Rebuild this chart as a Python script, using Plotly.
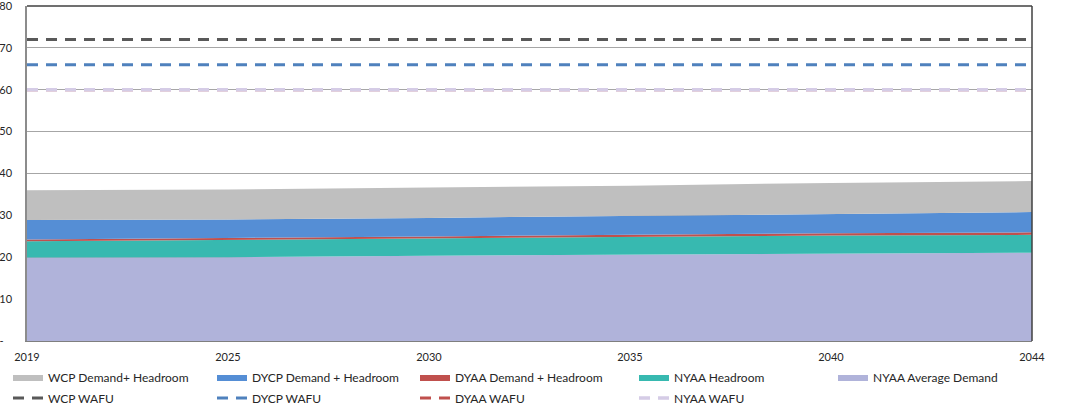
import plotly.graph_objects as go

years = ["2019", "2025", "2030", "2035", "2040", "2044"]

nyaa_avg_demand = [19.95, 20.0, 20.35, 20.65, 20.9, 21.1]
nyaa_headroom = [3.85, 4.15, 4.15, 4.15, 4.3, 4.25]
dyaa_dem_head = [0.45, 0.4, 0.45, 0.55, 0.55, 0.6]
dycp_dem_head = [4.65, 4.45, 4.45, 4.55, 4.6, 4.85]
wcp_dem_head = [7.1, 7.2, 7.25, 7.2, 7.4, 7.4]

wcp_wafu = [72.0] * 6
dycp_wafu = [66.0] * 6
dyaa_wafu = [60.0] * 6
nyaa_wafu = [60.0] * 6

y_tickvals = [0, 10, 20, 30, 40, 50, 60, 70, 80]
y_ticktext = ["-\u00a0\u00a0\u00a0", "10", "20", "30", "40", "50", "60", "70", "80"]

FONT = "Lato, 'Liberation Sans', Arial, sans-serif"

# geometry (pixels)
W, H = 1066, 408
L, R, T, B = 27, 34, 6, 67
PW, PH = W - L - R, H - T - B


def px_x(x):
    return (x - L) / PW


def px_y(y):
    return (H - B - y) / PH


fig = go.Figure()

areas = [
    ("NYAA Average Demand", nyaa_avg_demand, "#b0b3da", "legend5", 873),
    ("NYAA Headroom", nyaa_headroom, "#37b9b0", "legend4", 674),
    ("DYAA Demand + Headroom", dyaa_dem_head, "#c0504d", "legend3", 455),
    ("DYCP Demand + Headroom", dycp_dem_head, "#558ed5", "legend2", 252),
    ("WCP Demand+ Headroom", wcp_dem_head, "#bfbfbf", "legend", 48),
]
lines = [
    ("WCP WAFU", wcp_wafu, "#595959", "legend6", 48, 3),
    ("DYCP WAFU", dycp_wafu, "#4f81bd", "legend7", 252, 3),
    ("DYAA WAFU", dyaa_wafu, "#c0504d", "legend8", 455, 3),
    ("NYAA WAFU", nyaa_wafu, "#d5cce6", "legend9", 674, 3.6),
]

legend_layout = {}


def leg(text_x, row_y):
    return dict(
        x=px_x(text_x - 40), y=px_y(row_y), xanchor="left", yanchor="middle",
        orientation="v", font=dict(family=FONT, size=12, color="#262626"),
        bgcolor="rgba(0,0,0,0)", itemwidth=30,
    )


for name, vals, col, lg, tx in areas:
    fig.add_trace(go.Scatter(
        x=years, y=vals, name=name, mode="lines", stackgroup="a",
        line=dict(width=0, color=col), fillcolor=col, legend=lg,
    ))
    legend_layout[lg] = leg(tx, 377)

for name, vals, col, lg, tx, w in lines:
    fig.add_trace(go.Scatter(
        x=years, y=vals, name=name, mode="lines",
        line=dict(width=w, color=col, dash="11px,8px"), legend=lg,
    ))
    legend_layout[lg] = leg(tx, 398)

fig.update_layout(
    width=W, height=H,
    margin=dict(l=L, r=R, t=T, b=B, autoexpand=False),
    paper_bgcolor="white", plot_bgcolor="white",
    font=dict(family=FONT, size=11, color="#262626"),
    showlegend=True,
    xaxis=dict(
        type="category", range=[0, 5], showgrid=False,
        showline=True, linecolor="#7f7f7f", linewidth=1,
        ticks="", tickfont=dict(size=11), ticklabelstandoff=6,
    ),
    yaxis=dict(
        range=[0, 80], tickvals=y_tickvals, ticktext=y_ticktext,
        showgrid=True, gridcolor="#a6a6a6", gridwidth=1,
        showline=True, linecolor="#8c8c8c", linewidth=1.5,
        zeroline=False, ticks="", tickfont=dict(size=11),
        ticklabelstandoff=11, ticklabeloverflow="allow",
    ),
    **legend_layout,
)

fig.add_shape(type="line", xref="paper", yref="paper", x0=0, x1=1, y0=1, y1=1,
              line=dict(color="#404040", width=1.5), layer="above")
fig.add_shape(type="line", xref="paper", yref="paper", x0=1, x1=1, y0=0, y1=1,
              line=dict(color="#404040", width=1.5), layer="above")

fig.write_html(
    "out.html",
    config={"displayModeBar": False},
    post_script="document.body.style.margin='0';document.body.style.overflow='hidden';",
)
